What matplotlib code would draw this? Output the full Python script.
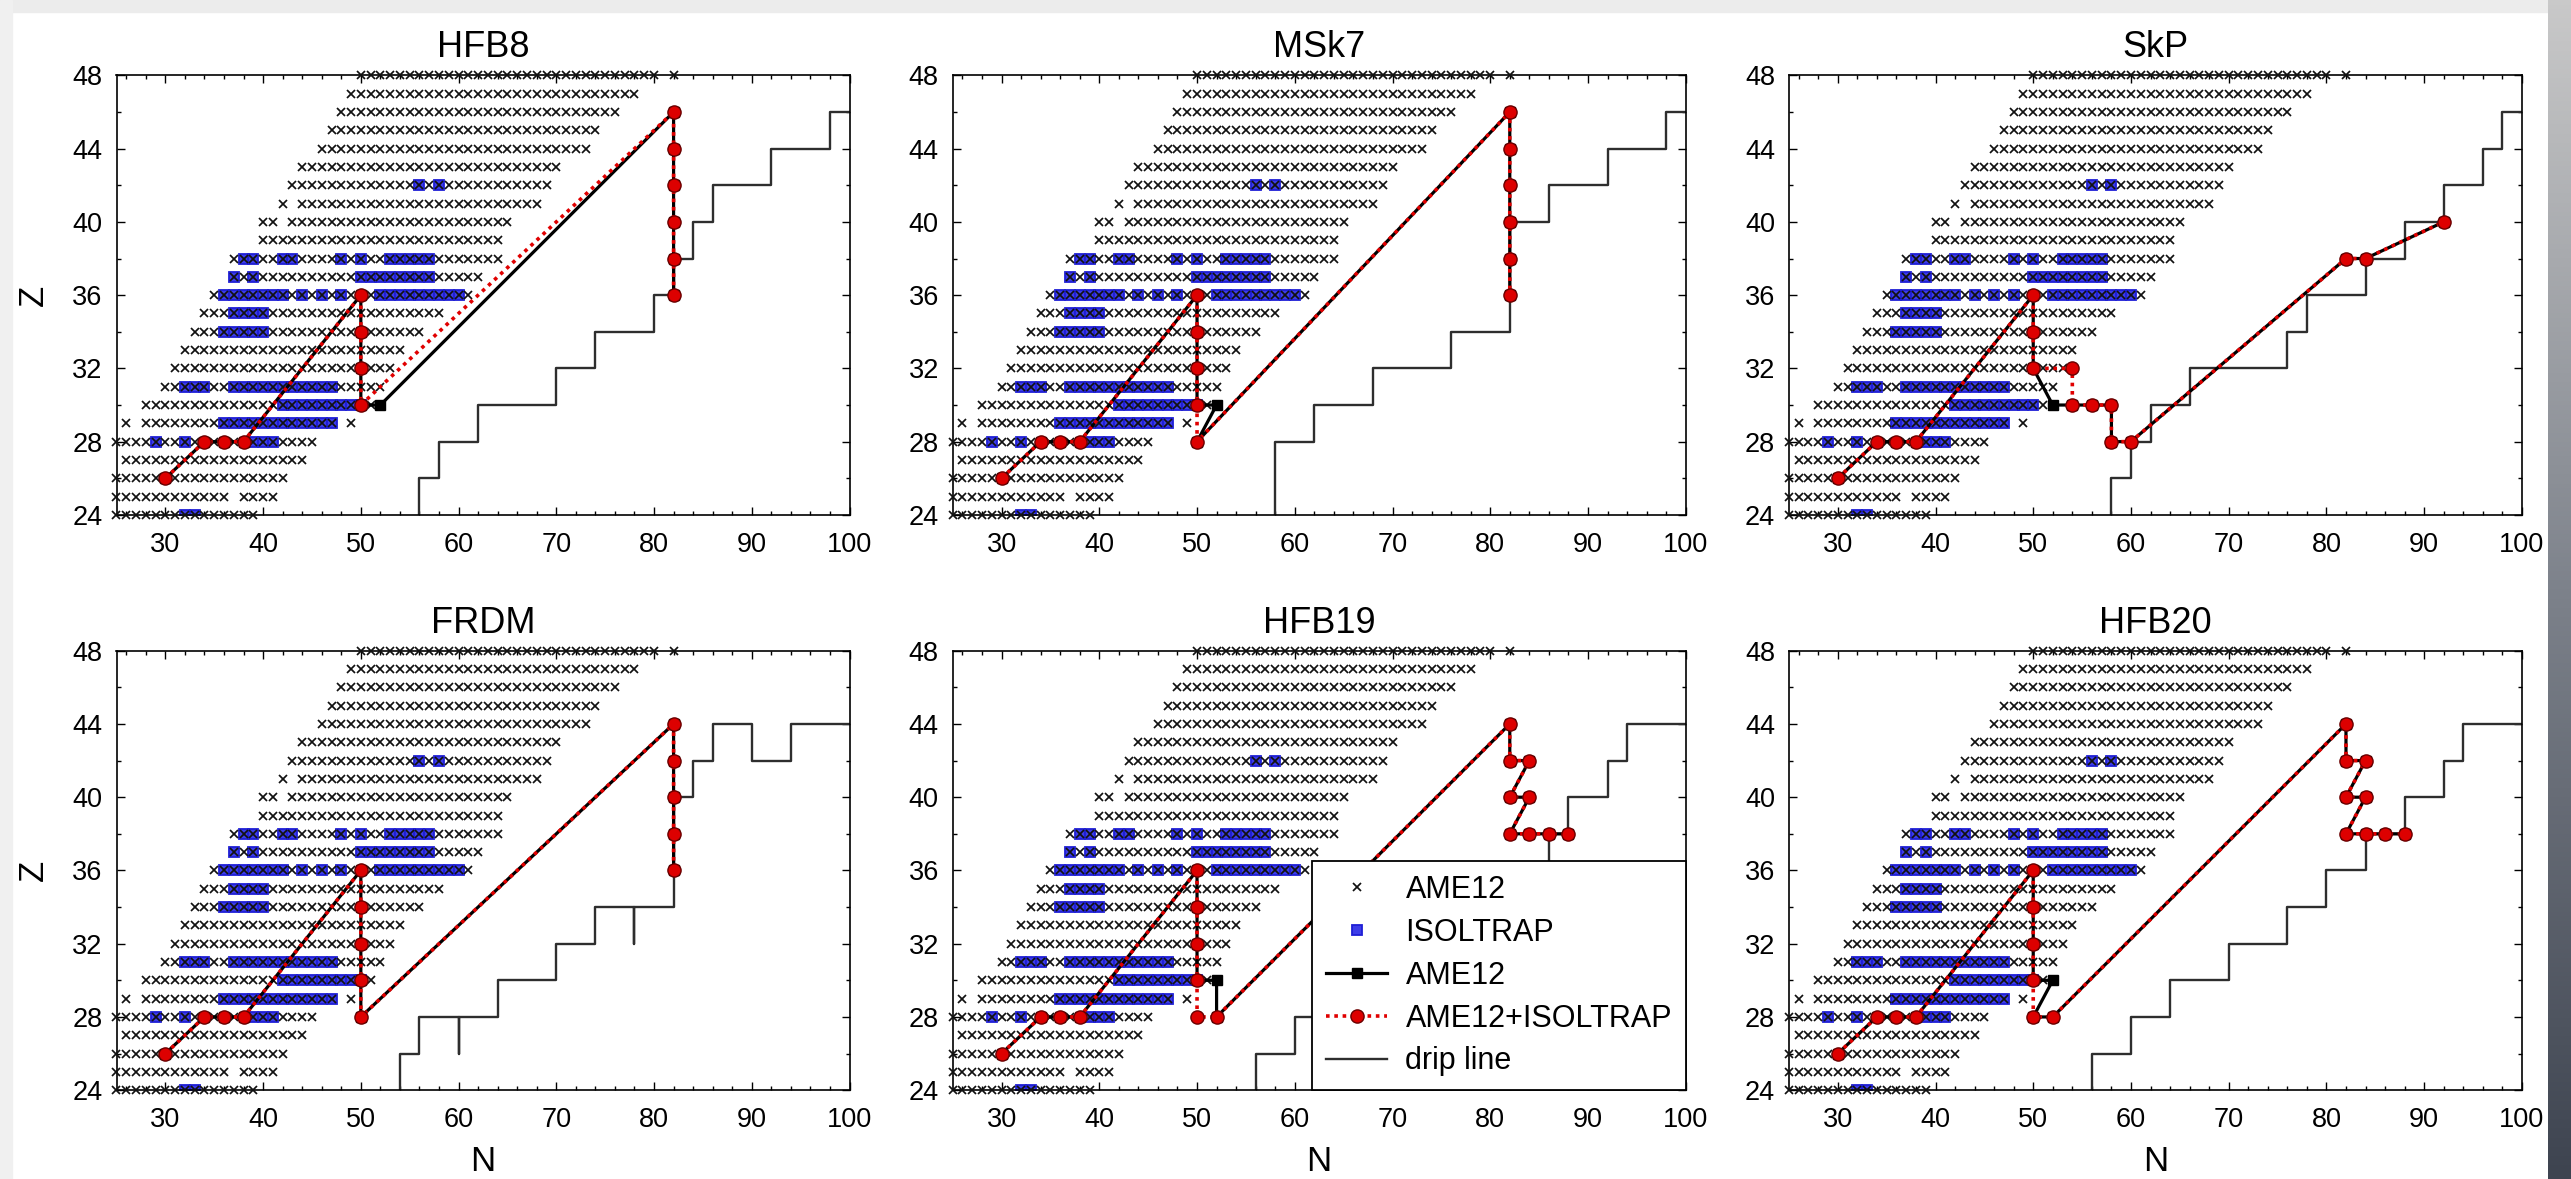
import numpy as np
import matplotlib.pyplot as plt
from matplotlib.ticker import MultipleLocator
from matplotlib.colors import LinearSegmentedColormap

plt.rcParams['font.family'] = ['Liberation Sans', 'DejaVu Sans']

# AME12 nuclei: for each Z, runs of N (first, last)
ame_rows_Z = [48, 47, 46, 45, 44, 43, 42, 41, 40, 39, 38, 37, 36,
              35, 34, 33, 32, 31, 30, 29, 28, 27, 26, 25, 24]
ame_rows_N = [
    [(50, 80), (82, 82)],
    [(49, 78)],
    [(48, 76)],
    [(47, 74)],
    [(46, 73)],
    [(44, 70)],
    [(43, 69)],
    [(42, 42), (44, 68)],
    [(40, 41), (43, 65)],
    [(40, 64)],
    [(37, 64)],
    [(37, 62)],
    [(35, 61)],
    [(34, 58)],
    [(33, 56)],
    [(32, 54)],
    [(31, 53)],
    [(30, 52)],
    [(28, 51)],
    [(26, 26), (28, 47), (49, 49)],
    [(25, 45)],
    [(26, 44)],
    [(25, 42)],
    [(25, 36), (38, 41)],
    [(25, 39)],
]

# ISOLTRAP masses
isol_Z = [42, 38, 37, 36, 35, 34, 31, 30, 29, 28, 24]
isol_N = [
    [56, 58],
    [38, 39, 42, 43, 48, 50, 53, 54, 55, 56, 57],
    [37, 39, 50, 51, 52, 53, 54, 55, 56, 57],
    [36, 37, 38, 39, 40, 41, 42, 44, 46, 48, 52, 53, 54, 55, 56, 57, 58, 59, 60],
    [37, 38, 39, 40],
    [36, 37, 38, 39, 40],
    [32, 33, 34, 37, 38, 39, 40, 41, 42, 43, 44, 45, 46, 47],
    [42, 43, 44, 45, 46, 47, 48, 49, 50],
    [36, 37, 38, 39, 40, 41, 42, 43, 44, 45, 46, 47],
    [29, 32, 39, 40, 41],
    [32, 33],
]

# r-process path per mass model
hfb8_ame_N = [30, 34, 36, 38, 50, 50, 50, 50, 52, 82, 82, 82, 82, 82, 82]
hfb8_ame_Z = [26, 28, 28, 28, 36, 34, 32, 30, 30, 46, 44, 42, 40, 38, 36]
hfb8_iso_N = [30, 34, 36, 38, 50, 50, 50, 50, 82, 82, 82, 82, 82, 82]
hfb8_iso_Z = [26, 28, 28, 28, 36, 34, 32, 30, 46, 44, 42, 40, 38, 36]
hfb8_drip_N = [56, 58, 62, 70, 74, 80, 82, 84, 86, 92, 98, 100]
hfb8_drip_Z = [24, 26, 28, 30, 32, 34, 36, 38, 40, 42, 44, 46]

msk7_ame_N = [30, 34, 36, 38, 50, 50, 50, 50, 52, 50, 82, 82, 82, 82, 82, 82]
msk7_ame_Z = [26, 28, 28, 28, 36, 34, 32, 30, 30, 28, 46, 44, 42, 40, 38, 36]
msk7_iso_N = [30, 34, 36, 38, 50, 50, 50, 50, 50, 82, 82, 82, 82, 82, 82]
msk7_iso_Z = [26, 28, 28, 28, 36, 34, 32, 30, 28, 46, 44, 42, 40, 38, 36]
msk7_drip_N = [58, 62, 68, 76, 82, 86, 92, 98, 100]
msk7_drip_Z = [24, 28, 30, 32, 34, 40, 42, 44, 46]

skp_ame_N = [30, 34, 36, 38, 50, 50, 50, 52, 54, 56, 58, 58, 60, 82, 84, 92]
skp_ame_Z = [26, 28, 28, 28, 36, 34, 32, 30, 30, 30, 30, 28, 28, 38, 38, 40]
skp_iso_N = [30, 34, 36, 38, 50, 50, 50, 54, 54, 56, 58, 58, 60, 82, 84, 92]
skp_iso_Z = [26, 28, 28, 28, 36, 34, 32, 32, 30, 30, 30, 28, 28, 38, 38, 40]
skp_drip_N = [58, 60, 62, 66, 76, 78, 84, 88, 92, 96, 98, 100]
skp_drip_Z = [24, 26, 28, 30, 32, 34, 36, 38, 40, 42, 44, 46]

frdm_ame_N = [30, 34, 36, 38, 50, 50, 50, 50, 50, 82, 82, 82, 82, 82]
frdm_ame_Z = [26, 28, 28, 28, 36, 34, 32, 30, 28, 44, 42, 40, 38, 36]
frdm_iso_N = [30, 34, 36, 38, 50, 50, 50, 50, 50, 82, 82, 82, 82, 82]
frdm_iso_Z = [26, 28, 28, 28, 36, 34, 32, 30, 28, 44, 42, 40, 38, 36]
frdm_drip_N = [54, 56, 60, 60, 64, 70, 74, 78, 78, 82, 84, 86, 90, 94, 100]
frdm_drip_Z = [24, 26, 28, 26, 28, 30, 32, 34, 32, 34, 40, 42, 44, 42, 44]

hfb19_ame_N = [30, 34, 36, 38, 50, 50, 50, 50, 52, 52, 82, 82, 84, 82, 84, 82, 84, 86, 88]
hfb19_ame_Z = [26, 28, 28, 28, 36, 34, 32, 30, 30, 28, 44, 42, 42, 40, 40, 38, 38, 38, 38]
hfb19_iso_N = [30, 34, 36, 38, 50, 50, 50, 50, 50, 52, 82, 82, 84, 82, 84, 82, 84, 86, 88]
hfb19_iso_Z = [26, 28, 28, 28, 36, 34, 32, 30, 28, 28, 44, 42, 42, 40, 40, 38, 38, 38, 38]
hfb19_drip_N = [56, 60, 64, 70, 76, 80, 86, 88, 92, 94, 100]
hfb19_drip_Z = [24, 26, 28, 30, 32, 34, 36, 38, 40, 42, 44]

hfb20_ame_N = [30, 34, 36, 38, 50, 50, 50, 50, 52, 50, 52, 82, 82, 84, 82, 84, 82, 84, 86, 88]
hfb20_ame_Z = [26, 28, 28, 28, 36, 34, 32, 30, 30, 28, 28, 44, 42, 42, 40, 40, 38, 38, 38, 38]
hfb20_iso_N = [30, 34, 36, 38, 50, 50, 50, 50, 50, 52, 82, 82, 84, 82, 84, 82, 84, 86, 88]
hfb20_iso_Z = [26, 28, 28, 28, 36, 34, 32, 30, 28, 28, 44, 42, 42, 40, 40, 38, 38, 38, 38]
hfb20_drip_N = [56, 60, 64, 70, 76, 80, 84, 88, 92, 94, 100]
hfb20_drip_Z = [24, 26, 28, 30, 32, 34, 36, 38, 40, 42, 44]

models = [
    ('HFB8', hfb8_ame_N, hfb8_ame_Z, hfb8_iso_N, hfb8_iso_Z, hfb8_drip_N, hfb8_drip_Z),
    ('MSk7', msk7_ame_N, msk7_ame_Z, msk7_iso_N, msk7_iso_Z, msk7_drip_N, msk7_drip_Z),
    ('SkP', skp_ame_N, skp_ame_Z, skp_iso_N, skp_iso_Z, skp_drip_N, skp_drip_Z),
    ('FRDM', frdm_ame_N, frdm_ame_Z, frdm_iso_N, frdm_iso_Z, frdm_drip_N, frdm_drip_Z),
    ('HFB19', hfb19_ame_N, hfb19_ame_Z, hfb19_iso_N, hfb19_iso_Z, hfb19_drip_N, hfb19_drip_Z),
    ('HFB20', hfb20_ame_N, hfb20_ame_Z, hfb20_iso_N, hfb20_iso_Z, hfb20_drip_N, hfb20_drip_Z),
]

# expand the AME12 runs into points
cross_N, cross_Z = [], []
for z, runs in zip(ame_rows_Z, ame_rows_N):
    for a, b in runs:
        for n in range(a, b + 1):
            cross_N.append(n)
            cross_Z.append(z)
blue_N, blue_Z = [], []
for z, ns in zip(isol_Z, isol_N):
    blue_N += ns
    blue_Z += [z] * len(ns)

W, H = 2571, 1179
fig = plt.figure(figsize=(W / 100, H / 100), dpi=100)
fig.patch.set_facecolor('white')

col_left = [116.5, 952.7, 1788.9]
row_top = [75.4, 650.7]
ax_w, ax_h = 733, 439.5

for i, (name, aN, aZ, iN, iZ, dN, dZ) in enumerate(models):
    r, c = divmod(i, 3)
    ax = fig.add_axes([col_left[c] / W, 1 - (row_top[r] + ax_h) / H, ax_w / W, ax_h / H])
    ax.plot(dN, dZ, drawstyle='steps-pre', color='#2e2e2e', lw=1.7, zorder=2,
            label='drip line')
    ax.plot(cross_N, cross_Z, ls='none', marker='x', ms=5.2, mew=1.25, color='#111111',
            zorder=3, clip_on=False, label='AME12')
    ax.plot(blue_N, blue_Z, ls='none', marker='s', ms=7, mew=1.3, mfc='#3d3de8',
            mec='#1f1fd6', zorder=2.5, label='ISOLTRAP')
    ax.plot(aN, aZ, '-', color='black', lw=2.3, marker='s', ms=7, zorder=5,
            label='AME12')
    ax.plot(iN, iZ, color='#e00000', ls=(0, (1, 1.3)), lw=2.6, marker='o', ms=9.5,
            mfc='#dd0000', mec='#6a0000', mew=1.0, zorder=6, label='AME12+ISOLTRAP')

    ax.set_xlim(25, 100)
    ax.set_ylim(24, 48)
    ax.set_xticks(range(30, 101, 10))
    ax.set_yticks(range(24, 49, 4))
    ax.xaxis.set_minor_locator(MultipleLocator(2))
    ax.yaxis.set_minor_locator(MultipleLocator(2))
    ax.tick_params(which='both', direction='in', top=True, right=True, width=1.0)
    ax.tick_params(which='major', length=5.5, labelsize=19.5)
    ax.tick_params(axis='x', which='major', pad=12)
    ax.tick_params(axis='y', which='major', pad=10)
    ax.tick_params(which='minor', length=3)
    for s in ax.spines.values():
        s.set_linewidth(1.2)
    ax.set_title(name, fontsize=26, pad=13)
    if c == 0:
        ax.set_ylabel('Z', fontsize=25, labelpad=16)
    if r == 1:
        ax.set_xlabel('N', fontsize=25, labelpad=9)

    if name == 'HFB19':
        h, l = ax.get_legend_handles_labels()
        order = [1, 2, 3, 4, 0]
        leg = ax.legend([h[k] for k in order], [l[k] for k in order], loc='lower right',
                        borderaxespad=0, fontsize=22, frameon=True, fancybox=False,
                        framealpha=1, edgecolor='black', handlelength=2.0,
                        handletextpad=0.6, labelspacing=0.42, borderpad=0.45)
        leg.get_frame().set_linewidth(1.3)
        leg.set_zorder(20)

# slide border and shadow
fig.patches.append(plt.Rectangle((0, 1 - 12 / H), 1, 12 / H, transform=fig.transFigure,
                                 color='#ececec', zorder=-1))
fig.patches.append(plt.Rectangle((0, 0), 12 / W, 1, transform=fig.transFigure,
                                 color='#f0f0f0', zorder=-1))
shade = fig.add_axes([2548 / W, 0, 23 / W, 1])
grad = np.linspace(0, 1, 256).reshape(-1, 1)
shade.imshow(grad, aspect='auto', extent=[0, 1, 0, 1],
             cmap=LinearSegmentedColormap.from_list('sh', ['#c9c9c9', '#7d828b', '#3e4450']))
shade.set_axis_off()

fig.savefig('out.png', dpi=100)
